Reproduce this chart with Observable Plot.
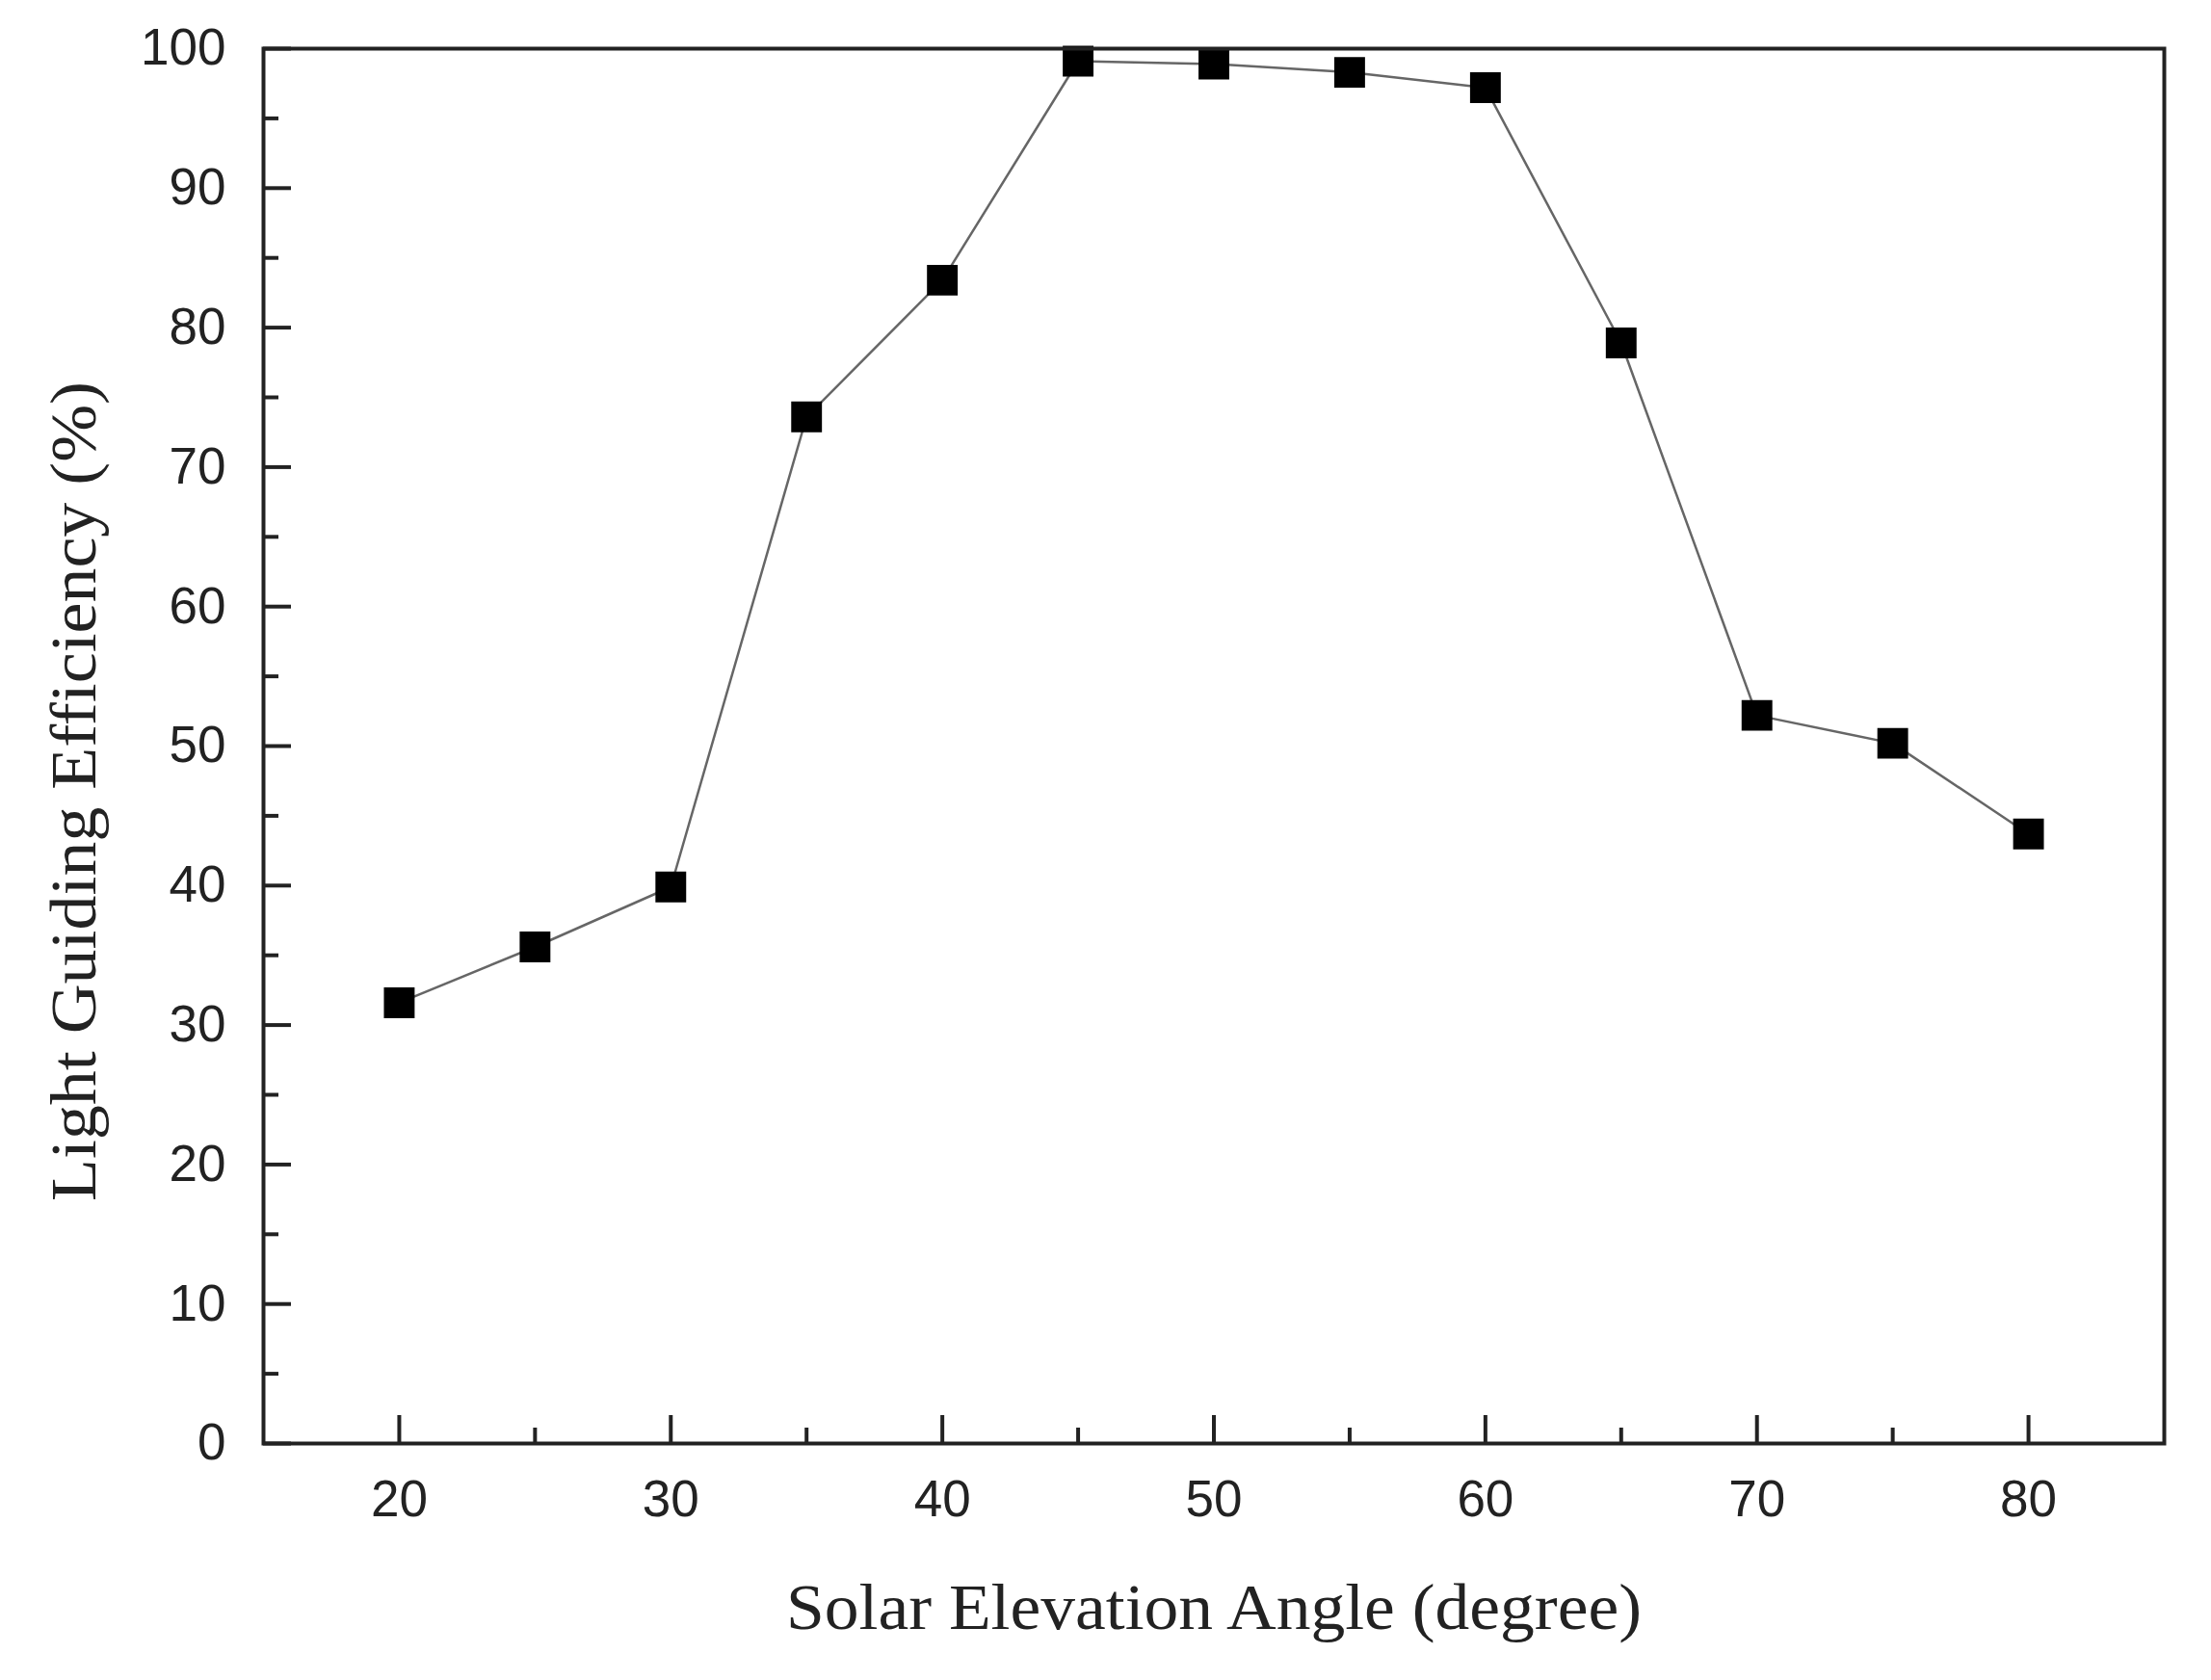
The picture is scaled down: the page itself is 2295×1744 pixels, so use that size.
<!DOCTYPE html>
<html>
<head>
<meta charset="utf-8">
<script src="https://cdn.jsdelivr.net/npm/d3@7"></script>
<script src="https://cdn.jsdelivr.net/npm/@observablehq/plot@0.6"></script>
<style>
  html, body { margin: 0; padding: 0; background: #fff; }
  #chart svg { display: block; }
</style>
</head>
<body>
<div id="chart"></div>
<script>
const angles = [20, 25, 30, 35, 40, 45, 50, 55, 60, 65, 70, 75, 80];
const efficiency = [31.6, 35.6, 39.9, 73.6, 83.4, 99.1, 98.9, 98.3, 97.2, 78.9, 52.2, 50.2, 43.7];
const xMajorTicks = [20, 30, 40, 50, 60, 70, 80];
const xMinorTicks = [25, 35, 45, 55, 65, 75];
const yMajorTicks = [0, 10, 20, 30, 40, 50, 60, 70, 80, 90, 100];
const yMinorTicks = [5, 15, 25, 35, 45, 55, 65, 75, 85, 95];
const xTitle = "Solar Elevation Angle (degree)";
const yTitle = "Light Guiding Efficiency (%)";

const data = angles.map((a, i) => ({angle: a, eff: efficiency[i]}));

const tickFont = "'Liberation Sans', Arial, sans-serif";
const titleFont = "'Liberation Serif', 'Times New Roman', serif";

const chart = Plot.plot({
  width: 2295,
  height: 1744,
  marginLeft: 273,
  marginRight: 49,
  marginTop: 50,
  marginBottom: 246,
  style: {background: "#fff", color: "#222"},
  x: {domain: [15, 85]},
  y: {domain: [0, 100]},
  marks: [
    // tick labels
    Plot.axisX(xMajorTicks, {tickSize: 0, tickPadding: 38, fontSize: 53, fontFamily: tickFont, fill: "#222", label: null}),
    Plot.axisY(yMajorTicks, {tickSize: 0, tickPadding: 39, fontSize: 53, fontFamily: tickFont, fill: "#222", label: null}),
    // inward ticks
    Plot.axisX(xMajorTicks, {tickSize: -29, text: null, label: null, stroke: "#222", strokeWidth: 4}),
    Plot.axisX(xMinorTicks, {tickSize: -16, text: null, label: null, stroke: "#222", strokeWidth: 4}),
    Plot.axisY(yMajorTicks, {tickSize: -29, text: null, label: null, stroke: "#222", strokeWidth: 4}),
    Plot.axisY(yMinorTicks, {tickSize: -16, text: null, label: null, stroke: "#222", strokeWidth: 4}),
    // data
    Plot.line(data, {x: "angle", y: "eff", stroke: "#666", strokeWidth: 2.5}),
    Plot.dot(data, {x: "angle", y: "eff", symbol: "square", r: 18, fill: "#000", stroke: "none"}),
    Plot.frame({stroke: "#222", strokeWidth: 4}),
    // titles
    Plot.text([xTitle], {frameAnchor: "bottom", textAnchor: "middle", dy: 192, lineAnchor: "bottom", fontSize: 68, fontFamily: titleFont, fill: "#222", className: "xtitle"}),
    Plot.text([yTitle], {frameAnchor: "left", textAnchor: "middle", dx: -175, dy: 47, rotate: -90, lineAnchor: "bottom", fontSize: 68, fontFamily: titleFont, fill: "#222", className: "ytitle"})
  ]
});

document.getElementById("chart").appendChild(chart);

// condense the serif titles to match the reference widths
const xt = chart.querySelector(".xtitle text");
if (xt) { xt.setAttribute("textLength", 888); xt.setAttribute("lengthAdjust", "spacingAndGlyphs"); }
const yt = chart.querySelector(".ytitle text");
if (yt) { yt.setAttribute("textLength", 851); yt.setAttribute("lengthAdjust", "spacingAndGlyphs"); }
</script>
</body>
</html>
